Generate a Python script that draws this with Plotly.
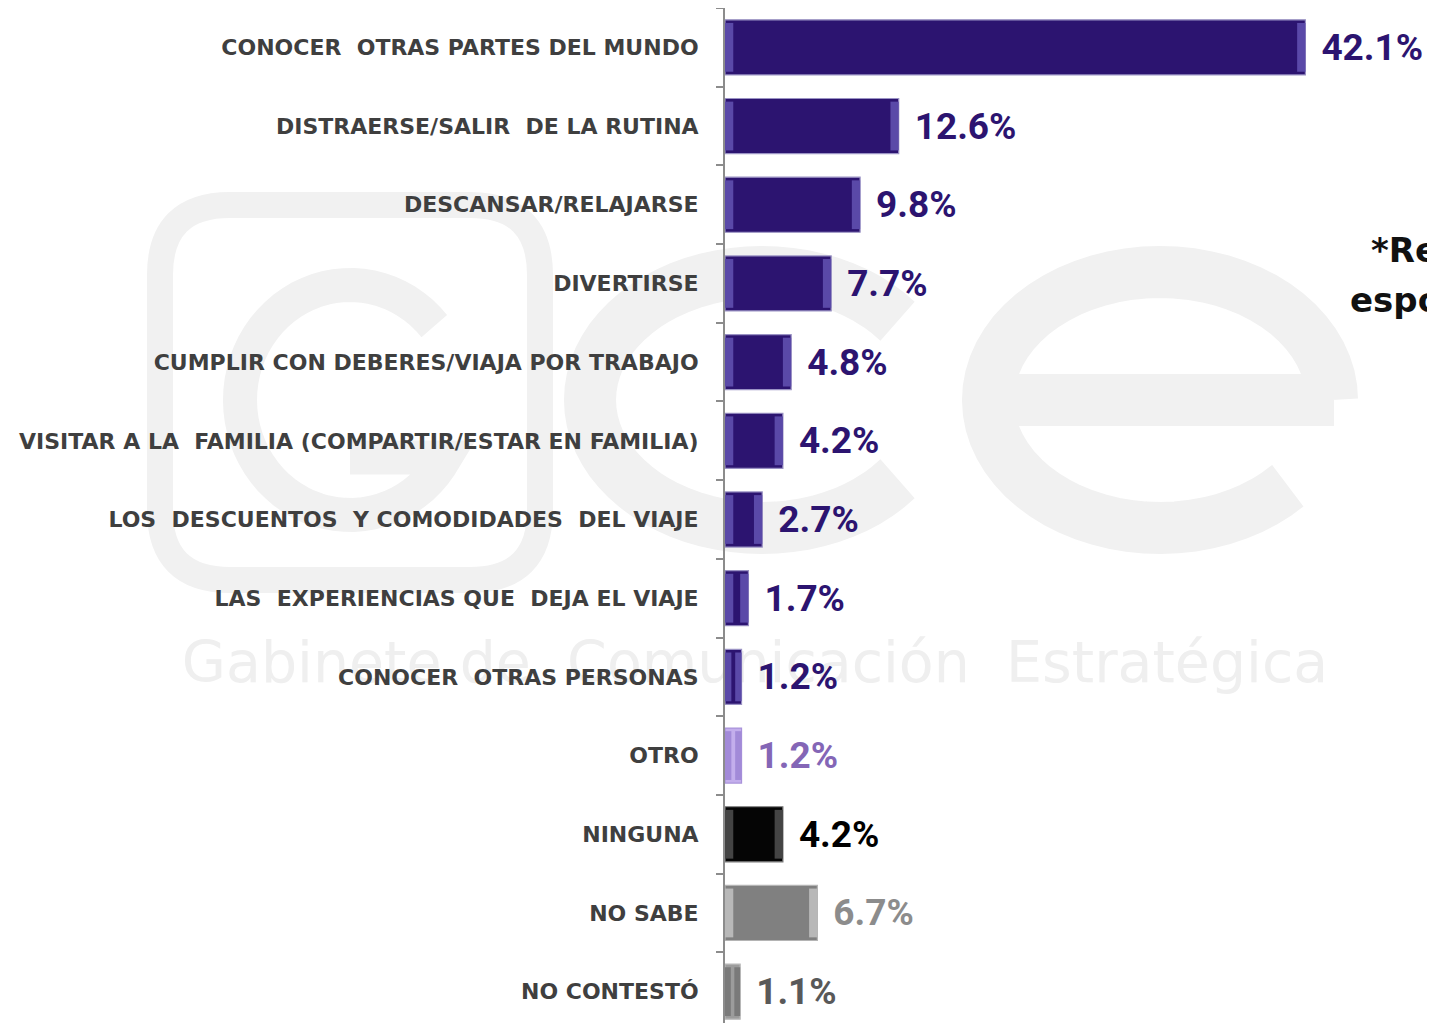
import math
import plotly.graph_objects as go

# --- Data ---
categories = [
    "CONOCER  OTRAS PARTES DEL MUNDO",
    "DISTRAERSE/SALIR  DE LA RUTINA",
    "DESCANSAR/RELAJARSE",
    "DIVERTIRSE",
    "CUMPLIR CON DEBERES/VIAJA POR TRABAJO",
    "VISITAR A LA  FAMILIA (COMPARTIR/ESTAR EN FAMILIA)",
    "LOS  DESCUENTOS  Y COMODIDADES  DEL VIAJE",
    "LAS  EXPERIENCIAS QUE  DEJA EL VIAJE",
    "CONOCER  OTRAS PERSONAS",
    "OTRO",
    "NINGUNA",
    "NO SABE",
    "NO CONTESTÓ",
]
values = [42.1, 12.6, 9.8, 7.7, 4.8, 4.2, 2.7, 1.7, 1.2, 1.2, 4.2, 6.7, 1.1]

# --- Styles ---
purple = "#2C1470"
bar_colors = [purple] * 9 + ["#C3AEEC", "#050505", "#808080", "#9C9C9C"]
edge_colors = ["#9A92C4"] * 9 + ["#A993DA", "#7A7A7A", "#B4B4B4", "#B8B8B8"]
bevel_colors = ["#5A49A8"] * 9 + ["#A28AD8", "#444444", "#B8B8B8", "#7A7A7A"]
text_colors = [purple] * 9 + ["#8466B6", "#000000", "#8C8C8C", "#595959"]
label_color = "#3F3F3F"
axis_color = "#8C8C8C"
wm_color = "#F1F1F1"

labels = ["\u00a0\u200a" + f"{v:.1f}%" for v in values]

# page offset of the figure inside the html body (8px body margin)
L, T = 717, 0
W, H = 1427, 1023
X_MAX = 51.5


def px(x):  # page pixel -> paper x
    return (x - 8 - L) / (W - L)


def py(y):  # page pixel -> paper y
    return (H + 8 - y) / (H - T)


def arc_path(cx, cy, rx, ry, a0, a1, n=60, start="M"):
    pts = []
    for i in range(n + 1):
        a = math.radians(a0 + (a1 - a0) * i / n)
        pts.append((px(cx + rx * math.cos(a)), py(cy - ry * math.sin(a))))
    s = f"{start} {pts[0][0]},{pts[0][1]}"
    for x, y in pts[1:]:
        s += f" L {x},{y}"
    return s


fig = go.Figure()

fig.add_trace(go.Bar(
    y=categories, x=values, orientation="h",
    marker=dict(color=bar_colors, line=dict(color=edge_colors, width=1.2)),
    width=0.70,
    text=labels, textposition="outside", cliponaxis=False,
    constraintext="none",
    outsidetextfont=dict(family="Roboto", size=37, color=text_colors, weight="bold"),
    hoverinfo="skip",
))

# bevel strips at both ends of every bar
bevel = [min(0.6, v / 2.6) for v in values]
fig.add_trace(go.Bar(
    y=categories, x=bevel, base=[0] * len(values), orientation="h",
    marker=dict(color=bevel_colors, line=dict(width=0)), width=0.62,
    hoverinfo="skip",
))
fig.add_trace(go.Bar(
    y=categories, x=bevel, base=[v - b for v, b in zip(values, bevel)], orientation="h",
    marker=dict(color=bevel_colors, line=dict(width=0)), width=0.62,
    hoverinfo="skip",
))

# --- faint watermark (logo) behind the chart ---
wm_line = dict(color=wm_color, width=52)
# rounded box with a "G"
fig.add_shape(type="path", xref="paper", yref="paper", layer="below",
              path=(f"M {px(230)},{py(205)} L {px(470)},{py(205)} "
                    f"Q {px(540)},{py(205)} {px(540)},{py(275)} L {px(540)},{py(510)} "
                    f"Q {px(540)},{py(580)} {px(470)},{py(580)} L {px(230)},{py(580)} "
                    f"Q {px(160)},{py(580)} {px(160)},{py(510)} L {px(160)},{py(275)} "
                    f"Q {px(160)},{py(205)} {px(230)},{py(205)} Z"),
              line=dict(color=wm_color, width=26), fillcolor="rgba(0,0,0,0)")
fig.add_shape(type="path", xref="paper", yref="paper", layer="below",
              path=arc_path(350, 400, 110, 115, 40, 330) + f" L {px(350)},{py(400 + 115 * 0.5)}",
              line=dict(color=wm_color, width=34))
# "c"
fig.add_shape(type="path", xref="paper", yref="paper", layer="below",
              path=arc_path(762, 400, 172, 128, 38, 322), line=wm_line)
# "e"
fig.add_shape(type="path", xref="paper", yref="paper", layer="below",
              path=(f"M {px(990)},{py(400)} L {px(1334)},{py(400)} "
                    + arc_path(1160, 400, 172, 128, 0, 318, start="L")),
              line=wm_line)
fig.add_shape(type="rect", xref="paper", yref="paper",
              x0=px(100), x1=px(1410), y0=py(690), y1=py(625), layer="below",
              line=dict(width=0), fillcolor="rgba(0,0,0,0)",
              label=dict(text="Gabinete de  Comunicación  Estratégica",
                         font=dict(family="DejaVu Sans", size=57, color="#EFEFEF")))

# cut-off note on the right edge
fig.add_annotation(xref="paper", yref="paper", x=px(1369), y=py(250),
                   xanchor="left", yanchor="middle", showarrow=False,
                   text="<b>*Respuesta</b>", font=dict(family="DejaVu Sans", size=34, color="#111111"))
fig.add_annotation(xref="paper", yref="paper", x=px(1348), y=py(300),
                   xanchor="left", yanchor="middle", showarrow=False,
                   text="<b>espontánea</b>", font=dict(family="DejaVu Sans", size=34, color="#111111"))

fig.update_layout(
    width=W, height=H,
    margin=dict(l=L, r=0, t=T, b=0),
    plot_bgcolor="white", paper_bgcolor="white",
    showlegend=False, barmode="overlay",
    xaxis=dict(range=[0, X_MAX], visible=False, showgrid=False, zeroline=False),
    yaxis=dict(
        range=[12.5, -0.5],
        showgrid=False, zeroline=False,
        showline=True, linecolor=axis_color, linewidth=2,
        ticks="outside", tickson="boundaries", ticklen=7, tickcolor=axis_color, tickwidth=2,
        ticklabelstandoff=20,
        tickfont=dict(family="DejaVu Sans", size=22, color=label_color, weight="bold"),
    ),
)

fig.write_html("out.html")
